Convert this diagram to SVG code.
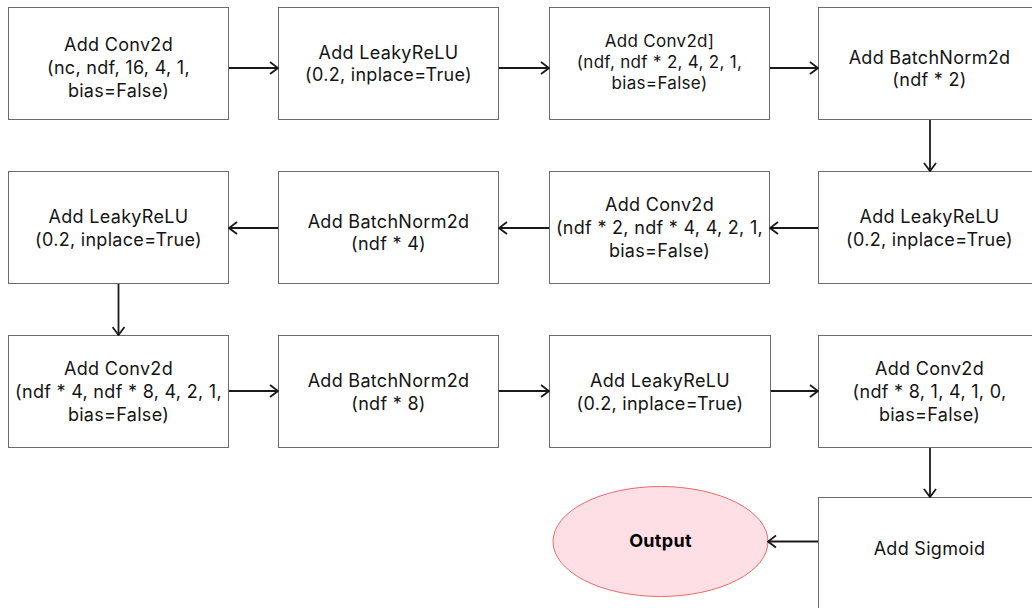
<svg xmlns="http://www.w3.org/2000/svg" width="1032" height="608" viewBox="0 0 1032 608">
  <defs>
    <marker id="chev" markerUnits="userSpaceOnUse" viewBox="0 0 10 14" refX="9" refY="7" markerWidth="10" markerHeight="14" orient="auto">
      <path d="M1,1 L9,7 L1,13" fill="none" stroke="#1a1a1a" stroke-width="1.8"/>
    </marker>
  </defs>
  <style>
    .box { fill: #ffffff; stroke: #6b6b6b; stroke-width: 1; }
    .lbl { font-family: Inter, "Liberation Sans", sans-serif; font-size: 18px; letter-spacing: 0.3px; fill: #141414; text-anchor: middle; }
    .sm { font-size: 17px; }
    .bold { font-weight: 700; fill: #000000; }
    .edge { fill: none; stroke: #1a1a1a; stroke-width: 1.8; marker-end: url(#chev); }
  </style>
  <rect width="1032" height="608" fill="#ffffff"/>

  <!-- row 1 -->
  <g id="conv1">
    <rect class="box" x="8.5" y="7.5" width="220" height="112"/>
    <text class="lbl" x="118.5" y="51">Add Conv2d</text>
    <text class="lbl" x="118.5" y="74">(nc, ndf, 16, 4, 1,</text>
    <text class="lbl" x="118.5" y="97">bias=False)</text>
  </g>
  <g id="lrelu1">
    <rect class="box" x="278.5" y="7.5" width="220" height="112"/>
    <text class="lbl" x="388.5" y="59">Add LeakyReLU</text>
    <text class="lbl" x="388.5" y="81">(0.2, inplace=True)</text>
  </g>
  <g id="conv2">
    <rect class="box" x="549.5" y="7.5" width="220" height="112"/>
    <text class="lbl sm" x="659.5" y="47">Add Conv2d]</text>
    <text class="lbl sm" x="659.5" y="68">(ndf, ndf * 2, 4, 2, 1,</text>
    <text class="lbl sm" x="659.5" y="89">bias=False)</text>
  </g>
  <g id="bn2">
    <rect class="box" x="818.5" y="7.5" width="222" height="112"/>
    <text class="lbl" x="929.5" y="64">Add BatchNorm2d</text>
    <text class="lbl" x="929.5" y="86">(ndf * 2)</text>
  </g>

  <!-- row 2 -->
  <g id="lrelu2">
    <rect class="box" x="818.5" y="171.5" width="222" height="112"/>
    <text class="lbl" x="929.5" y="223">Add LeakyReLU</text>
    <text class="lbl" x="929.5" y="246">(0.2, inplace=True)</text>
  </g>
  <g id="conv3">
    <rect class="box" x="549.5" y="171.5" width="220" height="112"/>
    <text class="lbl" x="659.5" y="211">Add Conv2d</text>
    <text class="lbl" x="659.5" y="234">(ndf * 2, ndf * 4, 4, 2, 1,</text>
    <text class="lbl" x="659.5" y="257">bias=False)</text>
  </g>
  <g id="bn3">
    <rect class="box" x="278.5" y="171.5" width="220" height="112"/>
    <text class="lbl" x="388.5" y="228">Add BatchNorm2d</text>
    <text class="lbl" x="388.5" y="250">(ndf * 4)</text>
  </g>
  <g id="lrelu3">
    <rect class="box" x="8.5" y="171.5" width="220" height="112"/>
    <text class="lbl" x="118.5" y="223">Add LeakyReLU</text>
    <text class="lbl" x="118.5" y="246">(0.2, inplace=True)</text>
  </g>

  <!-- row 3 -->
  <g id="conv4">
    <rect class="box" x="8.5" y="335.5" width="220" height="112"/>
    <text class="lbl" x="118.5" y="375">Add Conv2d</text>
    <text class="lbl" x="118.5" y="398">(ndf * 4, ndf * 8, 4, 2, 1,</text>
    <text class="lbl" x="118.5" y="421">bias=False)</text>
  </g>
  <g id="bn4">
    <rect class="box" x="278.5" y="335.5" width="220" height="112"/>
    <text class="lbl" x="388.5" y="387">Add BatchNorm2d</text>
    <text class="lbl" x="388.5" y="410">(ndf * 8)</text>
  </g>
  <g id="lrelu4">
    <rect class="box" x="549.5" y="335.5" width="221" height="112"/>
    <text class="lbl" x="660" y="387">Add LeakyReLU</text>
    <text class="lbl" x="660" y="410">(0.2, inplace=True)</text>
  </g>
  <g id="conv5">
    <rect class="box" x="818.5" y="335.5" width="222" height="112"/>
    <text class="lbl" x="929.5" y="375">Add Conv2d</text>
    <text class="lbl" x="929.5" y="398">(ndf * 8, 1, 4, 1, 0,</text>
    <text class="lbl" x="929.5" y="421">bias=False)</text>
  </g>

  <!-- final stage -->
  <g id="sigmoid">
    <rect class="box" x="818.5" y="497.5" width="222" height="112"/>
    <text class="lbl" x="929.5" y="555">Add Sigmoid</text>
  </g>
  <g id="output">
    <ellipse cx="660.5" cy="541.5" rx="107.5" ry="55" fill="#ffdfe6" stroke="#ea6b66" stroke-width="1"/>
    <text class="lbl bold" x="660.5" y="547">Output</text>
  </g>

  <!-- connectors -->
  <g id="edges">
    <path class="edge" d="M229,68 H278"/>
    <path class="edge" d="M499,68 H549"/>
    <path class="edge" d="M770,68 H818"/>
    <path class="edge" d="M930,120 V171"/>
    <path class="edge" d="M818,228 H770"/>
    <path class="edge" d="M549,228 H499"/>
    <path class="edge" d="M278,228 H229"/>
    <path class="edge" d="M118.5,284 V335"/>
    <path class="edge" d="M229,391 H278"/>
    <path class="edge" d="M499,391 H549"/>
    <path class="edge" d="M771,391 H818"/>
    <path class="edge" d="M930,448 V497"/>
    <path class="edge" d="M818,541.5 H768"/>
  </g>
</svg>
